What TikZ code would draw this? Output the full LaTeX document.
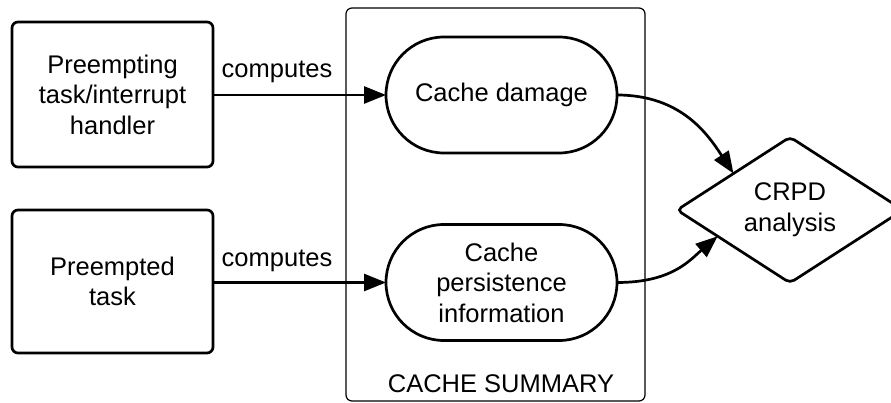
\documentclass[tikz,border=0pt]{standalone}
\usepackage{fontspec}
\setmainfont{Liberation Sans}
\usetikzlibrary{shapes.geometric,shapes.misc,arrows.meta,calc}
\begin{document}
\begin{tikzpicture}[x=1pt,y=-1pt,
  font=\fontsize{25.5}{30.6}\selectfont,
  every node/.style={inner sep=0pt,outer sep=0pt},
  taskbox/.style={draw,line width=2.7pt,rounded corners=6pt,align=center,
    minimum width=201pt},
  pill/.style={draw,line width=2.7pt,rounded rectangle,align=center,
    minimum width=231pt,minimum height=116pt},
  decision/.style={draw,line width=2.7pt,diamond,rounded corners=5pt,align=center,
    minimum width=226pt,minimum height=140pt},
  group/.style={draw,line width=1.2pt,rounded corners=6pt},
  flow/.style={line width=2.7pt,-{Triangle[length=22pt,width=17pt]}},
  lbl/.style={anchor=base}]
\useasboundingbox (0,0) rectangle (891,403);

% cache summary container
\node[group,minimum width=299pt,minimum height=393pt] (summary) at (495.5,204.5) {};
\node[lbl] (summarylbl) at (501,392) {CACHE SUMMARY};

% tasks
\node[taskbox,minimum height=145pt] (preempting) at (112.5,94.5)
  {Preempting\\task/interrupt\\handler};
\node[taskbox,minimum height=143pt] (preempted) at (112.5,281.5)
  {Preempted\\task};

% cache information
\node[pill] (damage) at (501.5,95) {Cache damage};
\node[pill] (persist) at (501.5,282.5) {Cache\\persistence\\information};

% analysis
\node[decision] (crpd) at (790,210) {CRPD\\analysis};

% connectors
\draw[flow] (preempting.east |- damage.west) -- (damage.west);
\node[lbl] (c1) at (277,78) {computes};
\draw[flow] (preempted.east |- persist.west) -- (persist.west);
\node[lbl] (c2) at (277,266) {computes};

\coordinate (t1) at ($(crpd.west)!0.5!(crpd.north)$);
\coordinate (t2) at ($(crpd.west)!0.36!(crpd.south)$);
\draw[flow] (damage.east) .. controls +(65,0) and +(-25,-38) .. (t1);
\draw[flow] (persist.east) .. controls +(55,0) and +(-28,24) .. (t2);
\end{tikzpicture}
\end{document}
